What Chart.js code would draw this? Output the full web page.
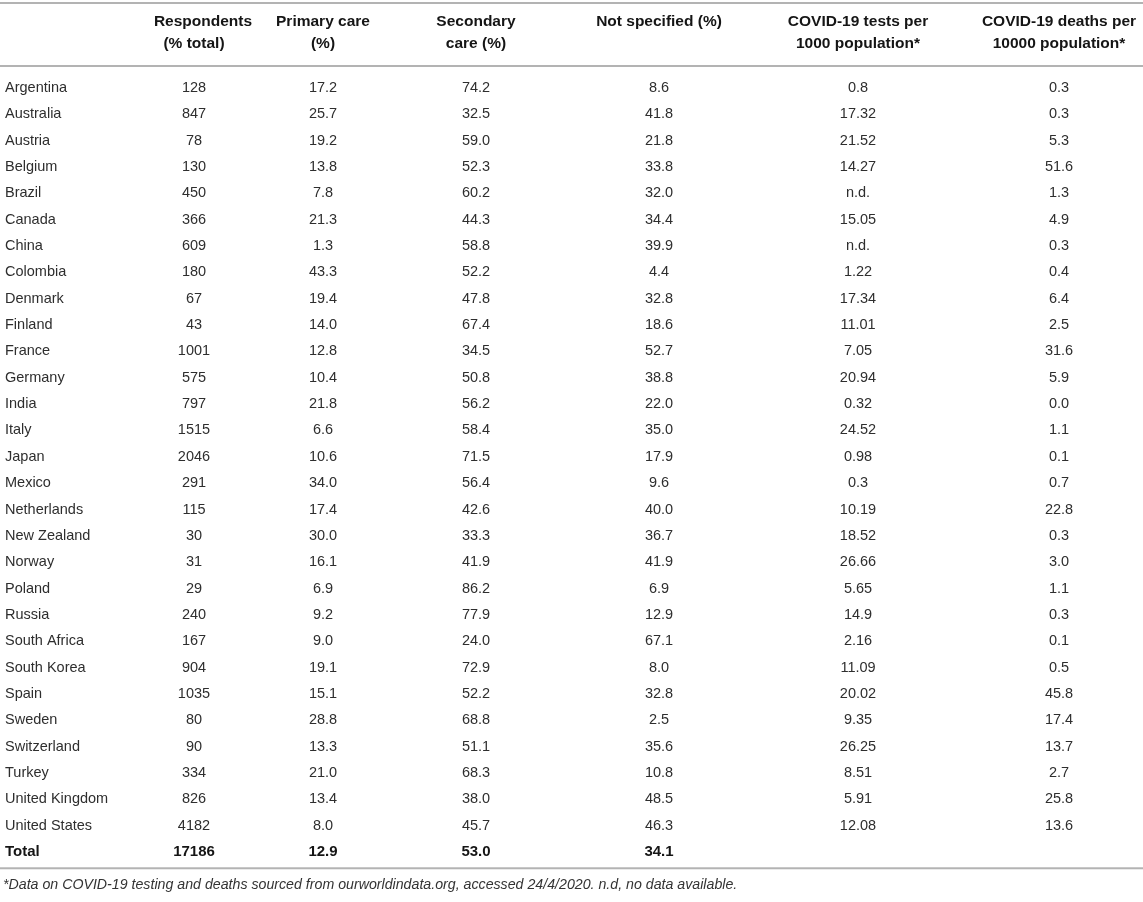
<!DOCTYPE html>
<html>
<head>
<meta charset="utf-8">
<script src="https://cdn.jsdelivr.net/npm/chart.js@4.4.1/dist/chart.umd.min.js"></script>
<style>
  html, body { margin: 0; padding: 0; background: #fff; }
  #wrap { width: 1143px; height: 902px; position: relative; }
</style>
</head>
<body>
<div id="wrap"><canvas id="table-chart"></canvas></div>
<script>
// rows of the table
const countries = [
  'Argentina', 'Australia', 'Austria', 'Belgium', 'Brazil', 'Canada', 'China',
  'Colombia', 'Denmark', 'Finland', 'France', 'Germany', 'India', 'Italy',
  'Japan', 'Mexico', 'Netherlands', 'New Zealand', 'Norway', 'Poland',
  'Russia', 'South Africa', 'South Korea', 'Spain', 'Sweden', 'Switzerland',
  'Turkey', 'United Kingdom', 'United States',
];
const respondents = [
  '128', '847', '78', '130', '450', '366', '609', '180', '67', '43', '1001',
  '575', '797', '1515', '2046', '291', '115', '30', '31', '29', '240', '167',
  '904', '1035', '80', '90', '334', '826', '4182',
];
const primaryCare = [
  '17.2', '25.7', '19.2', '13.8', '7.8', '21.3', '1.3', '43.3', '19.4', '14.0',
  '12.8', '10.4', '21.8', '6.6', '10.6', '34.0', '17.4', '30.0', '16.1', '6.9',
  '9.2', '9.0', '19.1', '15.1', '28.8', '13.3', '21.0', '13.4', '8.0',
];
const secondaryCare = [
  '74.2', '32.5', '59.0', '52.3', '60.2', '44.3', '58.8', '52.2', '47.8', '67.4',
  '34.5', '50.8', '56.2', '58.4', '71.5', '56.4', '42.6', '33.3', '41.9', '86.2',
  '77.9', '24.0', '72.9', '52.2', '68.8', '51.1', '68.3', '38.0', '45.7',
];
const notSpecified = [
  '8.6', '41.8', '21.8', '33.8', '32.0', '34.4', '39.9', '4.4', '32.8', '18.6',
  '52.7', '38.8', '22.0', '35.0', '17.9', '9.6', '40.0', '36.7', '41.9', '6.9',
  '12.9', '67.1', '8.0', '32.8', '2.5', '35.6', '10.8', '48.5', '46.3',
];
const testsPer1000 = [
  '0.8', '17.32', '21.52', '14.27', 'n.d.', '15.05', 'n.d.', '1.22', '17.34',
  '11.01', '7.05', '20.94', '0.32', '24.52', '0.98', '0.3', '10.19', '18.52',
  '26.66', '5.65', '14.9', '2.16', '11.09', '20.02', '9.35', '26.25', '8.51',
  '5.91', '12.08',
];
const deathsPer10000 = [
  '0.3', '0.3', '5.3', '51.6', '1.3', '4.9', '0.3', '0.4', '6.4', '2.5', '31.6',
  '5.9', '0.0', '1.1', '0.1', '0.7', '22.8', '0.3', '3.0', '1.1', '0.3', '0.1',
  '0.5', '45.8', '17.4', '13.7', '2.7', '25.8', '13.6',
];
const totalRow = ['17186', '12.9', '53.0', '34.1', '', ''];

const headers = [
  ['Respondents', '(% total)'],
  ['Primary care', '(%)'],
  ['Secondary', 'care (%)'],
  ['Not specified (%)'],
  ['COVID-19 tests per', '1000 population*'],
  ['COVID-19 deaths per', '10000 population*'],
];
const footnote = '*Data on COVID-19 testing and deaths sourced from ourworldindata.org, accessed 24/4/2020. n.d, no data available.';

const rowLabels = [...countries, 'Total'];
const columns = [respondents, primaryCare, secondaryCare, notSpecified, testsPer1000, deathsPer10000];

// layout of the columns (text centres) and fonts
const colCenters = [194, 323, 476, 659, 858, 1059];
const FONT = '"Liberation Sans", Arial, Helvetica, sans-serif';
const ruleColor = '#b3b3b3';

// draws the table text and rules on top of the (invisible) axes
const tablePlugin = {
  id: 'tableText',
  afterDraw(chart) {
    const { ctx } = chart;
    const y = chart.scales.y;
    const width = chart.width;
    const y0 = y.getPixelForValue(0);
    const yLast = y.getPixelForValue(rowLabels.length - 1);
    const step = y.getPixelForValue(1) - y0;

    ctx.save();
    // horizontal rules
    ctx.fillStyle = ruleColor;
    ctx.fillRect(0, y0 - 86, width, 2);
    ctx.fillRect(0, y0 - 23, width, 2);
    ctx.fillRect(0, yLast + step * 0.58, width, 2);

    // header
    ctx.textBaseline = 'middle';
    ctx.textAlign = 'center';
    ctx.fillStyle = '#151515';
    ctx.font = 'bold 15.5px ' + FONT;
    headers.forEach((lines, c) => {
      lines.forEach((line, i) => {
        // the first header sits a little right of its column
        const shift = c === 0 && i === 0 ? 9 : 0;
        ctx.fillText(line, colCenters[c] + shift, y0 - 66 + i * 22);
      });
    });

    // body rows
    rowLabels.forEach((label, r) => {
      const py = y.getPixelForValue(r);
      const isTotal = r === rowLabels.length - 1;
      ctx.font = (isTotal ? 'bold 15px ' : '14.5px ') + FONT;
      ctx.fillStyle = isTotal ? '#151515' : '#2e2e2e';
      ctx.textAlign = 'left';
      ctx.fillText(label, 5, py);
      ctx.textAlign = 'center';
      columns.forEach((col, c) => {
        const text = isTotal ? totalRow[c] : col[r];
        if (text) ctx.fillText(text, colCenters[c], py);
      });
    });

    // footnote
    ctx.font = 'italic 14.2px ' + FONT;
    ctx.fillStyle = '#333';
    ctx.textAlign = 'left';
    ctx.fillText(footnote, 3, yLast + step * 1.27);
    ctx.restore();
  },
};

const tableChart = new Chart(document.getElementById('table-chart'), {
  type: 'scatter',
  data: {
    labels: rowLabels,
    datasets: [],
  },
  options: {
    responsive: true,
    maintainAspectRatio: false,
    animation: false,
    layout: {
      padding: { top: 88, bottom: 50, left: 0, right: 0 },
    },
    plugins: {
      legend: { display: false },
      tooltip: { enabled: false },
    },
    scales: {
      x: { type: 'linear', display: false, min: 0, max: 1 },
      y: { type: 'category', labels: rowLabels, offset: false, display: false },
    },
  },
  plugins: [tablePlugin],
});
</script>
</body>
</html>
